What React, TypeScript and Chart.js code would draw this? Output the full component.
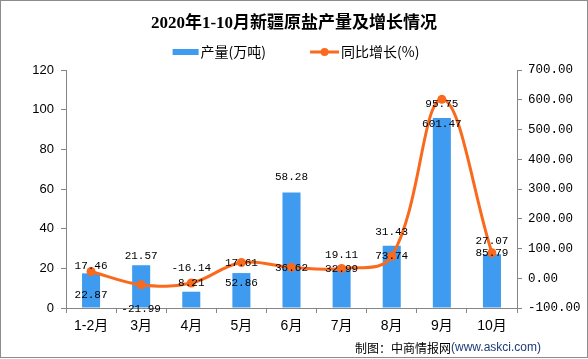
import React, { useEffect, useRef } from 'react';
import { Chart, registerables } from 'chart.js';

Chart.register(...registerables);

const title = '2020年1-10月新疆原盐产量及增长情况';
const categories = ['1-2月', '3月', '4月', '5月', '6月', '7月', '8月', '9月', '10月'];
const production = [17.46, 21.57, 8.21, 17.61, 58.28, 19.11, 31.43, 95.75, 27.07];
const growth = [22.87, -21.99, -16.14, 52.86, 36.62, 32.99, 73.74, 601.47, 85.79];
const productionName = '产量(万吨)';
const growthName = '同比增长(%)';
const footerLabel = '制图：中商情报网';
const footerSite = '(www.askci.com)';

const BAR_COLOR = '#3F9BEF';
const LINE_COLOR = '#FA6A1E';
const AXIS_COLOR = '#868686';
const CJK = "'Noto Sans CJK SC'";
const MONO = "'Liberation Mono', 'DejaVu Sans Mono', monospace";

// label vertical offsets (styling only)
const barLabelDy = [-7, -9, -9, -10, -15, -15, -14, -14, -13];
const lineLabelDy = [24, 24, -15, 21, 1, 1, 0, 25, 0];

const decorPlugin = {
  id: 'decor',
  afterDatasetsDraw(chart: any) {
    const ctx = chart.ctx;
    ctx.save();
    ctx.font = `11px ${MONO}`;
    ctx.fillStyle = '#000';
    ctx.textAlign = 'center';
    ctx.textBaseline = 'middle';
    const barMeta = chart.getDatasetMeta(0);
    barMeta.data.forEach((el: any, i: number) => {
      ctx.fillText(production[i].toFixed(2), el.x, el.y + barLabelDy[i]);
    });
    const lineMeta = chart.getDatasetMeta(1);
    lineMeta.data.forEach((el: any, i: number) => {
      ctx.fillText(growth[i].toFixed(2), el.x, el.y + lineLabelDy[i]);
    });
    ctx.restore();
  },
  afterDraw(chart: any) {
    const ctx = chart.ctx;
    const W = chart.width;
    const H = chart.height;
    ctx.save();
    // title
    ctx.fillStyle = '#000';
    ctx.textAlign = 'center';
    ctx.textBaseline = 'middle';
    ctx.font = `bold 17px 'Liberation Serif', ${CJK}`;
    ctx.fillText(title, W / 2, 24);

    // legend
    ctx.font = `14px ${CJK}`;
    const t1 = ctx.measureText(productionName).width;
    const t2 = ctx.measureText(growthName).width;
    const sw1 = 26, sw2 = 29, gap = 2, spacing = 44;
    const total = sw1 + gap + t1 + spacing + sw2 + gap + t2;
    let x = W / 2 + 2 - total / 2;
    const ly = 52;
    ctx.fillStyle = BAR_COLOR;
    ctx.fillRect(x, ly - 3, sw1, 6);
    x += sw1 + gap;
    ctx.fillStyle = '#000';
    ctx.textAlign = 'left';
    ctx.fillText(productionName, x, ly);
    x += t1 + spacing;
    ctx.strokeStyle = LINE_COLOR;
    ctx.lineWidth = 3;
    ctx.beginPath();
    ctx.moveTo(x, ly);
    ctx.lineTo(x + sw2, ly);
    ctx.stroke();
    ctx.fillStyle = LINE_COLOR;
    ctx.beginPath();
    ctx.arc(x + sw2 / 2, ly, 4, 0, Math.PI * 2);
    ctx.fill();
    x += sw2 + gap;
    ctx.fillStyle = '#000';
    ctx.fillText(growthName, x, ly);

    // footer
    ctx.font = `12px ${CJK}`;
    ctx.fillStyle = '#000';
    const fx = 355;
    const fy = 348;
    ctx.fillText(footerLabel, fx, fy);
    const fw = ctx.measureText(footerLabel).width;
    ctx.font = `12px 'Liberation Sans', ${CJK}`;
    ctx.fillStyle = '#1F3A78';
    ctx.fillText(footerSite, fx + fw, fy);

    // border
    ctx.strokeStyle = '#8C8C8C';
    ctx.lineWidth = 1;
    ctx.strokeRect(0.5, 0.5, W - 1, H - 2);
    ctx.restore();
  },
};

export default function App() {
  const ref = useRef<HTMLCanvasElement>(null);
  useEffect(() => {
    if (!ref.current) return;
    const chart = new Chart(ref.current, {
      type: 'bar',
      data: {
        labels: categories,
        datasets: [
          {
            type: 'bar',
            label: productionName,
            data: production,
            backgroundColor: BAR_COLOR,
            yAxisID: 'y',
            order: 1,
            categoryPercentage: 1,
            barPercentage: 0.36,
          },
          {
            type: 'line',
            label: growthName,
            data: growth,
            borderColor: LINE_COLOR,
            backgroundColor: LINE_COLOR,
            borderWidth: 3,
            pointRadius: 4.5,
            pointBackgroundColor: LINE_COLOR,
            pointBorderWidth: 0,
            tension: 0.38,
            yAxisID: 'y1',
            order: 0,
          },
        ] as any,
      },
      options: {
        responsive: false,
        animation: false,
        layout: { padding: { top: 70, left: 0, right: 0, bottom: 0 } },
        plugins: {
          legend: { display: false },
          title: { display: false },
          tooltip: { enabled: false },
        },
        scales: {
          x: {
            grid: {
              offset: true,
              drawOnChartArea: false,
              drawTicks: true,
              tickLength: 5,
              color: AXIS_COLOR,
            },
            border: { display: true, color: AXIS_COLOR },
            ticks: {
              color: '#000',
              font: { size: 14, family: `'Liberation Sans', ${CJK}` },
              padding: 5,
              maxRotation: 0,
              autoSkip: false,
            },
            afterFit: (s: any) => { s.height = 51; },
          },
          y: {
            position: 'left',
            min: 0,
            max: 120,
            ticks: {
              stepSize: 20,
              color: '#000',
              font: { size: 13, family: "'Liberation Sans', Arial, sans-serif" },
              padding: 7,
            },
            grid: {
              drawOnChartArea: false,
              drawTicks: true,
              tickLength: 5,
              color: AXIS_COLOR,
            },
            border: { display: true, color: AXIS_COLOR },
            afterFit: (s: any) => { s.width = 66; },
          },
          y1: {
            position: 'right',
            min: -100,
            max: 700,
            ticks: {
              stepSize: 100,
              color: '#000',
              font: { size: 12.5, family: MONO },
              padding: 6,
              callback: (v: any) => Number(v).toFixed(2),
            },
            grid: {
              drawOnChartArea: false,
              drawTicks: true,
              tickLength: 5,
              color: AXIS_COLOR,
            },
            border: { display: true, color: AXIS_COLOR },
            afterFit: (s: any) => { s.width = 71; },
          },
        },
      } as any,
      plugins: [decorPlugin],
    });
    return () => chart.destroy();
  }, []);
  return (
    <div style={{ position: 'absolute', left: 0, top: 0, width: 588, height: 359, background: '#fff' }}>
      <canvas ref={ref} width={588} height={359} style={{ display: 'block' }} />
    </div>
  );
}
